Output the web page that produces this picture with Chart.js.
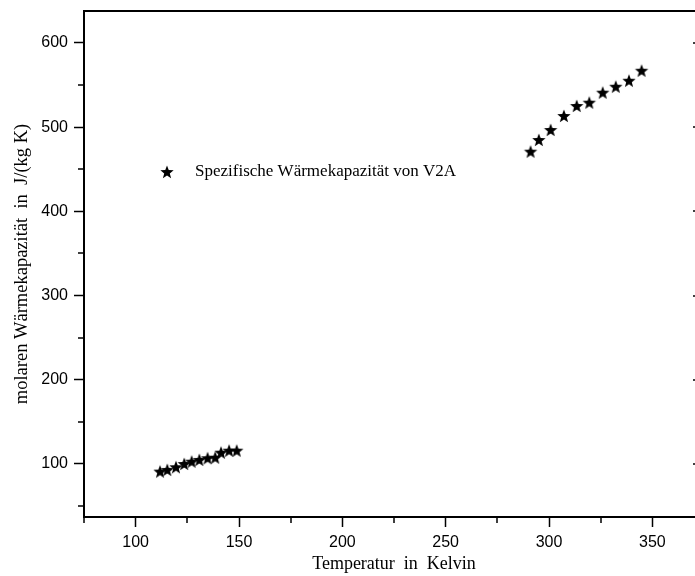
<!DOCTYPE html>
<html>
<head>
<meta charset="utf-8">
<title>Spezifische Wärmekapazität von V2A</title>
<script src="https://cdn.jsdelivr.net/npm/chart.js@4.4.0/dist/chart.umd.min.js"></script>
<style>
  html, body { margin: 0; padding: 0; background: #fff; overflow: hidden; }
</style>
</head>
<body>
<canvas id="waerme" width="720" height="576"></canvas>
<script>
// Messwerte: Temperatur in K, Wärmekapazität in J/(kg K)
const temperatur = [111.8, 115.3, 119.5, 123.5, 127.1, 130.8, 134.8, 138.5, 141.3, 145.2, 148.9,
                    291.1, 295.1, 300.8, 307.2, 313.4, 319.5, 326.0, 332.3, 338.7, 344.8];
const waerme     = [90.9, 92.9, 96.1, 100.0, 102.7, 104.8, 106.8, 107.5, 113.4, 115.8, 115.8,
                    470.9, 484.8, 496.7, 513.3, 525.2, 529.1, 541.0, 548.1, 555.2, 567.1];

const xTicks      = [100, 150, 200, 250, 300, 350];
const xMinorTicks = [75, 125, 175, 225, 275, 325, 375];
const yTicks      = [100, 200, 300, 400, 500, 600];
const yMinorTicks = [50, 150, 250, 350, 450, 550];

const serif = 'Liberation Serif';
const sans = 'Liberation Sans';

// gefuellter Fuenfzackstern als Punktsymbol
function sternBild(r) {
    const s = Math.ceil(r * 2) + 2;
    const c = document.createElement('canvas');
    c.width = c.height = s;
    const g = c.getContext('2d');
    g.translate(s / 2, s / 2 + 0.5);
    g.beginPath();
    for (let i = 0; i < 10; i++) {
        const rad = i % 2 ? r * 0.42 : r;
        const a = -Math.PI / 2 + i * Math.PI / 5;
        g.lineTo(rad * Math.cos(a), rad * Math.sin(a));
    }
    g.closePath();
    g.fillStyle = '#000';
    g.fill();
    return c;
}
const stern = sternBild(7);

// Rahmen, kleine Teilstriche und Legende
const rahmen = {
    id: 'rahmen',
    afterDraw(chart) {
        const ctx = chart.ctx;
        const a = chart.chartArea;
        const sx = chart.scales.x, sy = chart.scales.y;
        ctx.save();
        ctx.strokeStyle = '#000';
        ctx.lineWidth = 2;
        ctx.beginPath();
        ctx.moveTo(a.left, a.top);
        ctx.lineTo(a.right, a.top);
        ctx.lineTo(a.right, a.bottom);
        ctx.stroke();

        ctx.lineWidth = 1.5;
        ctx.beginPath();
        xMinorTicks.forEach(v => {
            const px = Math.round(sx.getPixelForValue(v));
            ctx.moveTo(px, a.bottom);
            ctx.lineTo(px, a.bottom + 6);
        });
        yMinorTicks.forEach(v => {
            const py = Math.round(sy.getPixelForValue(v));
            ctx.moveTo(a.left, py);
            ctx.lineTo(a.left - 6, py);
        });
        // Teilstriche der rechten Achse, nach innen
        yTicks.forEach(v => {
            const py = Math.round(sy.getPixelForValue(v));
            ctx.moveTo(a.right, py);
            ctx.lineTo(a.right - 11, py);
        });
        ctx.stroke();

        // Legende
        const lx = a.left + 83, ly = a.top + 161;
        ctx.drawImage(stern, lx - stern.width / 2, ly - stern.height / 2);
        ctx.fillStyle = '#000';
        ctx.font = '17px "' + serif + '"';
        ctx.textBaseline = 'middle';
        ctx.textAlign = 'left';
        ctx.fillText('Spezifische Wärmekapazität von V2A', lx + 28, ly);
        ctx.restore();
    }
};

const ctx = document.getElementById('waerme').getContext('2d');
const diagramm = new Chart(ctx, {
    type: 'scatter',
    data: {
        datasets: [{
            label: 'Spezifische Wärmekapazität von V2A',
            data: temperatur.map((t, i) => ({ x: t, y: waerme[i] })),
            pointStyle: stern,
            pointRadius: 7,
            backgroundColor: '#000',
            borderColor: '#000'
        }]
    },
    options: {
        responsive: false,
        devicePixelRatio: 1,
        animation: false,
        layout: { padding: { top: 11, right: 16, left: 0, bottom: 0 } },
        plugins: {
            legend: { display: false },
            tooltip: { enabled: false }
        },
        scales: {
            x: {
                type: 'linear',
                min: 75,
                max: 375,
                afterBuildTicks: s => { s.ticks = xTicks.map(v => ({ value: v })); },
                afterFit: s => { s.height = 59; s.paddingLeft = 0; s.paddingRight = 0; },
                ticks: {
                    font: { family: sans, size: 16 },
                    color: '#000',
                    padding: 6,
                    maxRotation: 0,
                    autoSkip: false
                },
                grid: { drawOnChartArea: false, tickLength: 10, tickWidth: 1.5, tickColor: '#000' },
                border: { color: '#000', width: 2 },
                title: {
                    display: true,
                    text: 'Temperatur  in  Kelvin',
                    font: { family: serif, size: 18 },
                    color: '#000',
                    padding: { top: 0, bottom: 1 }
                }
            },
            y: {
                min: 37,
                max: 638,
                afterBuildTicks: s => { s.ticks = yTicks.map(v => ({ value: v })); },
                afterFit: s => { s.width = 84; s.paddingTop = 0; s.paddingBottom = 0; },
                ticks: {
                    font: { family: sans, size: 16 },
                    color: '#000',
                    padding: 6,
                    autoSkip: false
                },
                grid: { drawOnChartArea: false, tickLength: 10, tickWidth: 1.5, tickColor: '#000' },
                border: { color: '#000', width: 2 },
                title: {
                    display: true,
                    text: 'molaren Wärmekapazität  in  J/(kg K)',
                    font: { family: serif, size: 18.5 },
                    color: '#000',
                    padding: { top: 11, bottom: 0 }
                }
            }
        }
    },
    plugins: [rahmen]
});
</script>
</body>
</html>
